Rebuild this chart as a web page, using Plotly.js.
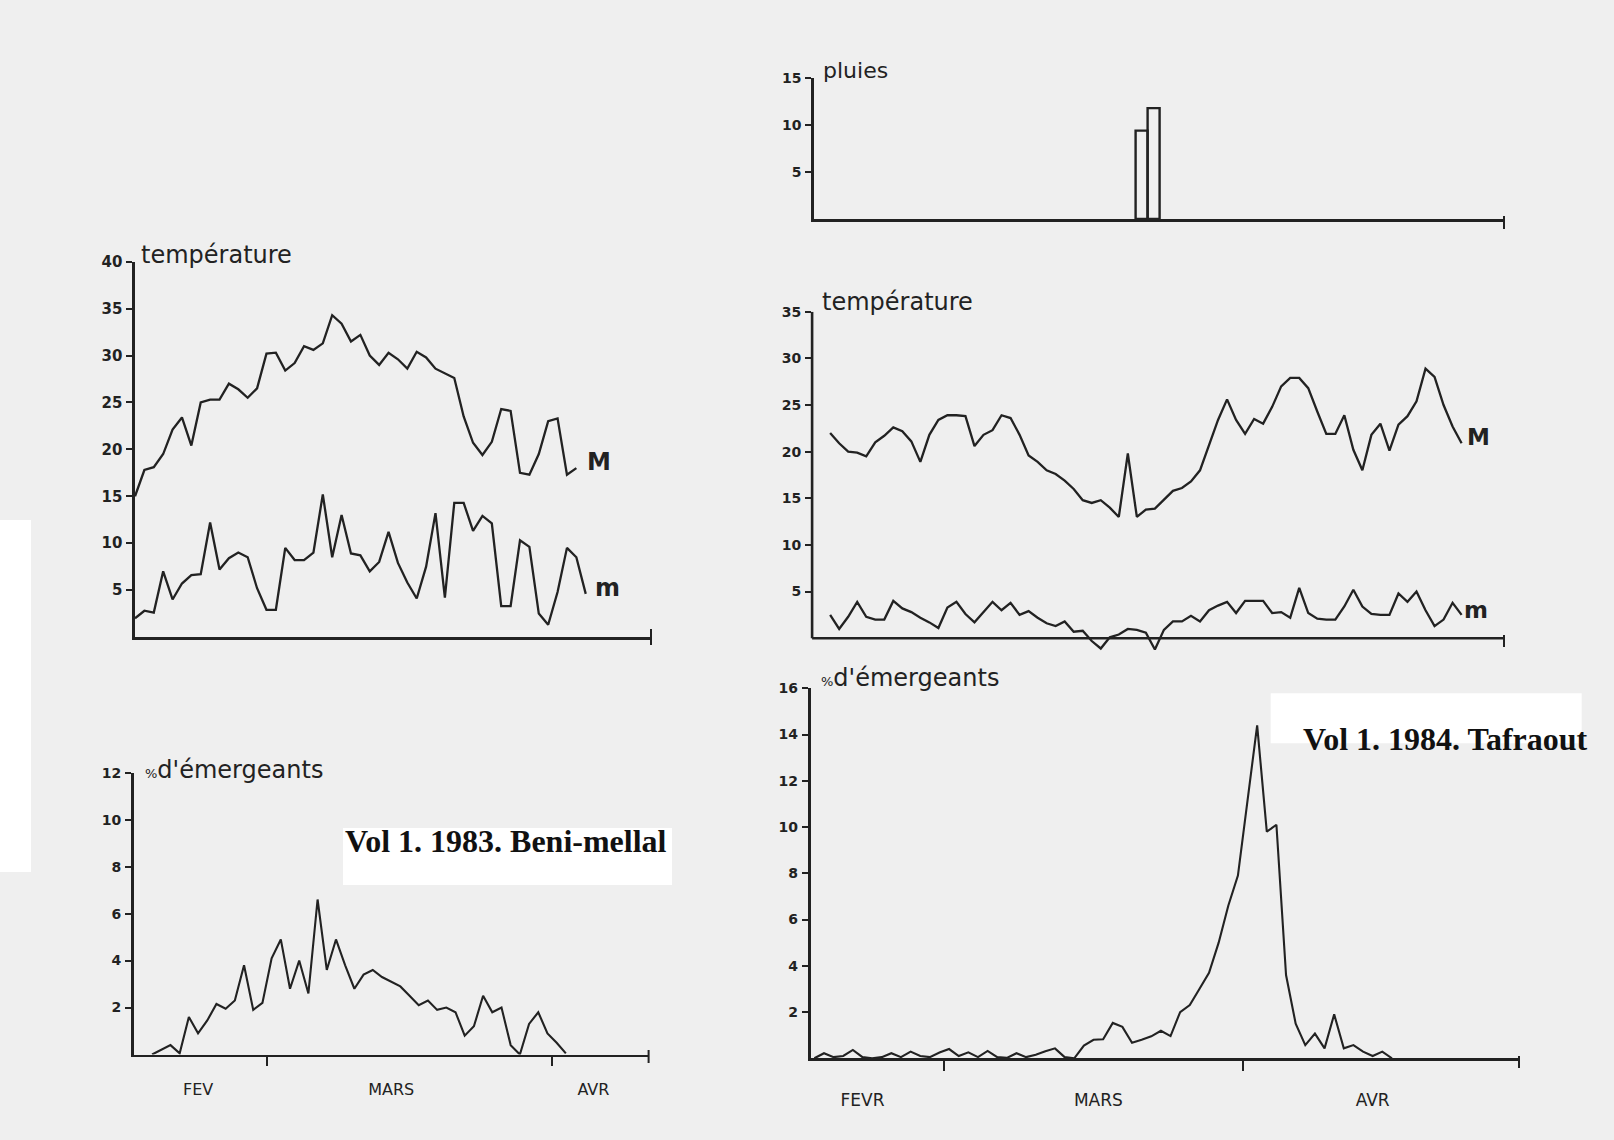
<!DOCTYPE html>
<html>
<head>
<meta charset="utf-8">
<script src="https://cdn.plot.ly/plotly-3.0.1.min.js"></script>
<style>html,body{margin:0;padding:0;background:#efefef;}#chart{width:1614px;height:1140px;}</style>
</head>
<body>
<div id="chart"></div>
<script>
// ---------- DATA (day numbers: 1 = 1st February) ----------
// Vol 1. 1983. Beni-mellal
const monthsBM = ['FEV', 'MARS', 'AVR'];
const tempStartBM = 14;
const tempMaxBM = [15.0, 17.8, 18.1, 19.5, 22.1, 23.4, 20.4, 25.0, 25.3, 25.3, 27.0, 26.4, 25.5, 26.5, 30.2, 30.3, 28.4, 29.2, 31.0, 30.6, 31.3, 34.3, 33.4, 31.5, 32.2, 30.0, 29.0, 30.3, 29.6, 28.6, 30.4, 29.8, 28.6, 28.1, 27.6, 23.5, 20.7, 19.4, 20.8, 24.3, 24.1, 17.5, 17.3, 19.5, 23.0, 23.3, 17.3, 18.0];
const tempMinBM = [2.0, 2.8, 2.6, 7.0, 4.0, 5.7, 6.6, 6.7, 12.2, 7.2, 8.4, 9.0, 8.5, 5.2, 2.9, 2.9, 9.5, 8.2, 8.2, 9.0, 15.2, 8.5, 13.0, 8.9, 8.7, 7.0, 8.0, 11.2, 7.9, 5.8, 4.1, 7.5, 13.2, 4.2, 14.3, 14.3, 11.3, 12.9, 12.1, 3.3, 3.3, 10.3, 9.6, 2.5, 1.3, 4.8, 9.5, 8.5, 4.6];
const emergStartBM = 16;
const emergBM = [0, 0.2, 0.4, 0.05, 1.6, 0.9, 1.45, 2.15, 1.95, 2.3, 3.8, 1.9, 2.2, 4.1, 4.9, 2.8, 4.0, 2.6, 6.6, 3.6, 4.9, 3.8, 2.8, 3.4, 3.6, 3.3, 3.1, 2.9, 2.5, 2.1, 2.3, 1.9, 2.0, 1.8, 0.8, 1.2, 2.5, 1.8, 2.0, 0.4, 0, 1.3, 1.8, 0.9, 0.5, 0.05];

// Vol 1. 1984. Tafraout
const monthsTF = ['FEVR', 'MARS', 'AVR'];
const rainDaysTF = [51, 52];
const rainTF = [9.4, 11.8];
const tempStartTF = 17;
const tempMaxTF = [22.0, 20.9, 20.0, 19.9, 19.5, 21.0, 21.7, 22.6, 22.2, 21.1, 18.9, 21.8, 23.4, 23.9, 23.9, 23.8, 20.6, 21.8, 22.3, 23.9, 23.6, 21.8, 19.6, 18.9, 18.0, 17.6, 16.9, 16.0, 14.8, 14.5, 14.8, 14.0, 13.0, 19.8, 13.0, 13.8, 13.9, 14.8, 15.8, 16.1, 16.8, 18.0, 20.7, 23.4, 25.6, 23.4, 21.9, 23.5, 23.0, 24.8, 27.0, 27.9, 27.9, 26.8, 24.3, 21.9, 21.9, 23.9, 20.2, 18.0, 21.8, 23.0, 20.1, 22.9, 23.8, 25.4, 28.9, 28.0, 25.0, 22.7, 20.9];
const tempMinTF = [2.5, 1.0, 2.3, 3.9, 2.3, 2.0, 2.0, 4.0, 3.2, 2.8, 2.2, 1.7, 1.1, 3.3, 3.9, 2.6, 1.7, 2.8, 3.9, 3.0, 3.8, 2.5, 2.9, 2.2, 1.6, 1.3, 1.8, 0.7, 0.8, -0.3, -1.1, 0.1, 0.4, 1.0, 0.9, 0.6, -1.2, 0.9, 1.8, 1.8, 2.4, 1.8, 3.0, 3.5, 3.9, 2.7, 4.0, 4.0, 4.0, 2.7, 2.8, 2.2, 5.4, 2.7, 2.1, 2.0, 2.0, 3.4, 5.2, 3.4, 2.6, 2.5, 2.5, 4.8, 3.9, 5.0, 3.0, 1.3, 2.0, 3.8, 2.5];
const emergStartTF = 16;
const emergTF = [0.0, 0.22, 0.05, 0.1, 0.36, 0.05, 0.0, 0.05, 0.22, 0.05, 0.29, 0.1, 0.05, 0.25, 0.4, 0.1, 0.26, 0.05, 0.32, 0.05, 0.02, 0.22, 0.05, 0.15, 0.3, 0.43, 0.05, 0.0, 0.55, 0.8, 0.82, 1.53, 1.36, 0.67, 0.8, 0.95, 1.19, 0.96, 2.0, 2.3, 3.0, 3.7, 5.0, 6.6, 7.9, 11.2, 14.4, 9.8, 10.1, 3.6, 1.5, 0.57, 1.07, 0.43, 1.9, 0.43, 0.57, 0.29, 0.1, 0.29, 0.0];

// ---------- LAYOUT HELPERS ----------
const W = 1614, H = 1140;
const px = x => x / W;
const py = y => 1 - y / H;
const days = (start, arr) => arr.map((_, i) => start + i);

const INK = '#222222';
const BG = '#efefef';
const TICKFONT = s => ({family: 'DejaVu Sans', size: s, color: INK, weight: 'bold'});

function line(x, y, xa, ya, w) {
  return {type: 'scatter', mode: 'lines', x: x, y: y, xaxis: xa, yaxis: ya,
    line: {color: INK, width: w || 2.3}, hoverinfo: 'skip', showlegend: false};
}

const traces = [
  line(days(tempStartBM, tempMaxBM), tempMaxBM, 'x', 'y'),
  line(days(tempStartBM, tempMinBM), tempMinBM, 'x', 'y'),
  line(days(emergStartBM, emergBM), emergBM, 'x2', 'y2', 2.1),
  {type: 'bar', x: rainDaysTF, y: rainTF, xaxis: 'x3', yaxis: 'y3', width: 1,
    marker: {color: 'rgba(0,0,0,0)', line: {color: INK, width: 2.4}}, hoverinfo: 'skip', showlegend: false},
  line(days(tempStartTF, tempMaxTF), tempMaxTF, 'x4', 'y4'),
  line(days(tempStartTF, tempMinTF), tempMinTF, 'x4', 'y4'),
  line(days(emergStartTF, emergTF), emergTF, 'x5', 'y5', 2.1)
];

function xax(d0, d1, yAnchor, range, extra) {
  return Object.assign({domain: [px(d0), px(d1)], anchor: yAnchor, range: range,
    showgrid: false, zeroline: false, showline: true, linecolor: INK, linewidth: 2.6,
    ticks: '', showticklabels: false, fixedrange: true}, extra || {});
}
function yax(p0, p1, xAnchor, range, tickvals, fs, extra) {
  return Object.assign({domain: [py(p0), py(p1)], anchor: xAnchor, range: range,
    showgrid: false, zeroline: false, showline: true, linecolor: INK, linewidth: 2.6,
    tickvals: tickvals, ticks: 'outside', ticklen: 6, tickwidth: 2, tickcolor: INK,
    tickfont: TICKFONT(fs), ticklabelstandoff: 1, fixedrange: true}, extra || {});
}
function monthAxis(labelDays, labels, bounds, standoff, fs, tl) {
  return {showticklabels: true, tickvals: labelDays, ticktext: labels, ticks: '', ticklen: 0,
    tickfont: {family: 'DejaVu Sans', size: fs, color: INK}, ticklabelstandoff: standoff,
    minor: {tickvals: bounds, ticks: 'outside', ticklen: tl, tickwidth: 2, tickcolor: INK, showgrid: false}};
}

const layout = {
  width: W, height: H, autosize: false,
  margin: {l: 0, r: 0, t: 0, b: 0},
  paper_bgcolor: BG, plot_bgcolor: 'rgba(0,0,0,0)',
  bargap: 0, showlegend: false,
  // Beni-mellal temperature
  xaxis: xax(135, 651, 'y', [14, 68.95]),
  yaxis: yax(637, 261.7, 'x', [0, 40], [5, 10, 15, 20, 25, 30, 35, 40], 15),
  // Beni-mellal emergence
  xaxis2: xax(133.7, 648.6, 'y2', [14, 70], monthAxis([21, 42, 64], monthsBM, [28.5, 59.5], 19, 16, 9)),
  yaxis2: yax(1054.5, 772.7, 'x2', [0, 12], [2, 4, 6, 8, 10, 12], 14),
  // Tafraout rain
  xaxis3: xax(814, 1504, 'y3', [23.7, 81.2]),
  yaxis3: yax(219, 78, 'x3', [0, 15], [5, 10, 15], 14),
  // Tafraout temperature
  xaxis4: xax(812.1, 1504, 'y4', [15, 91.7], {showline: false}),
  yaxis4: yax(656.9, 311.7, 'x4', [-2, 35], [5, 10, 15, 20, 25, 30, 35], 14, {showline: false}),
  // Tafraout emergence
  xaxis5: xax(810.5, 1519, 'y5', [15.6, 89.2], monthAxis([21, 45.5, 74], monthsTF, [29.5, 60.5], 25, 17, 10)),
  yaxis5: yax(1058.3, 688.3, 'x5', [0, 16], [2, 4, 6, 8, 10, 12, 14, 16], 14),
  shapes: [
    // scan background patches
    {type: 'rect', xref: 'paper', yref: 'paper', x0: px(0), x1: px(31), y0: py(872), y1: py(520), fillcolor: '#ffffff', line: {width: 0}, layer: 'below'},
    {type: 'rect', xref: 'paper', yref: 'paper', x0: px(343), x1: px(672), y0: py(885), y1: py(828), fillcolor: '#ffffff', line: {width: 0}, layer: 'below'},
    {type: 'rect', xref: 'paper', yref: 'paper', x0: px(1270.7), x1: px(1581.7), y0: py(743.3), y1: py(693.3), fillcolor: '#ffffff', line: {width: 0}, layer: 'below'},
    // Tafraout temperature axes (0 line and y axis)
    {type: 'line', xref: 'x4 domain', yref: 'y4', x0: 0, x1: 1, y0: 0, y1: 0, line: {color: INK, width: 2.6}},
    {type: 'line', xref: 'x4 domain', yref: 'y4', x0: 0, x1: 0, y0: 0, y1: 35, line: {color: INK, width: 2.6}},
    // end ticks of the time axes
    {type: 'line', xref: 'x domain', yref: 'paper', x0: 1, x1: 1, y0: py(645), y1: py(629), line: {color: INK, width: 2}},
    {type: 'line', xref: 'x2 domain', yref: 'paper', x0: 1, x1: 1, y0: py(1063), y1: py(1050), line: {color: INK, width: 2}},
    {type: 'line', xref: 'x3 domain', yref: 'paper', x0: 1, x1: 1, y0: py(229), y1: py(216), line: {color: INK, width: 2}},
    {type: 'line', xref: 'x4 domain', yref: 'paper', x0: 1, x1: 1, y0: py(647), y1: py(635), line: {color: INK, width: 2}},
    {type: 'line', xref: 'x5 domain', yref: 'paper', x0: 1, x1: 1, y0: py(1068), y1: py(1056), line: {color: INK, width: 2}}
  ],
  annotations: []
};

function label(text, x, y, size, opts) {
  layout.annotations.push(Object.assign({text: text, xref: 'paper', yref: 'paper', x: px(x), y: py(y),
    xanchor: 'left', yanchor: 'middle', showarrow: false,
    font: {family: 'DejaVu Sans', size: size, color: INK}}, opts || {}));
}
const bold = s => ({family: 'DejaVu Sans', size: s, color: INK, weight: 'bold'});
label('température', 139, 255, 24);
label('<span style="font-size:13px">%</span>d\'émergeants', 143, 770, 24);
label('pluies', 821, 71, 22);
label('température', 820, 302, 24);
label('<span style="font-size:13px">%</span>d\'émergeants', 819, 678, 24);
label('M', 599, 462, 24, {xanchor: 'center', font: bold(24)});
label('m', 607, 588, 24, {xanchor: 'center', font: bold(24)});
label('M', 1478, 437, 23, {xanchor: 'center', font: bold(23)});
label('m', 1476, 610, 23, {xanchor: 'center', font: bold(23)});
label('Vol 1. 1983. Beni-mellal', 343, 841, 32, {font: {family: 'Liberation Serif', size: 32, color: '#111', weight: 'bold'}});
label('Vol 1. 1984. Tafraout', 1301, 739, 32, {font: {family: 'Liberation Serif', size: 32, color: '#111', weight: 'bold'}});

Plotly.newPlot('chart', traces, layout, {staticPlot: true, displayModeBar: false});
</script>
</body>
</html>
